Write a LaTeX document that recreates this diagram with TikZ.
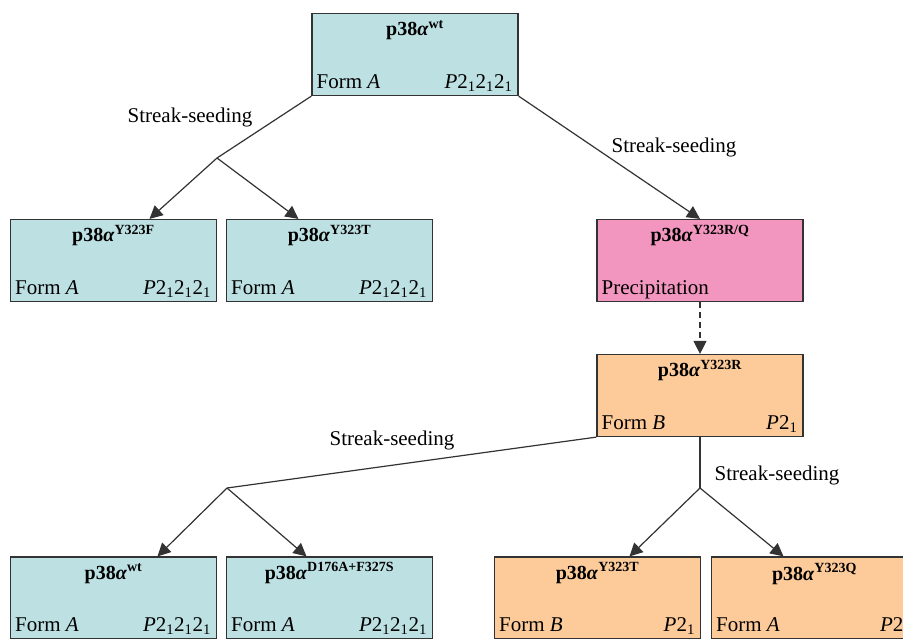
\documentclass[tikz,border=0pt]{standalone}
\usepackage{fontspec}
\setmainfont{Liberation Serif}
\usetikzlibrary{arrows.meta,positioning}
\definecolor{xtalblue}{HTML}{BDE0E3}
\definecolor{precpink}{HTML}{F296C0}
\definecolor{formorange}{HTML}{FDCA9A}
\newcommand{\ptitle}[1]{\textbf{p38\textit{α}\textsuperscript{#1}}}
\newcommand{\sgA}{\textit{P}2\textsubscript{1}2\textsubscript{1}2\textsubscript{1}}
\newcommand{\sgB}{\textit{P}2\textsubscript{1}}

\begin{document}
\begin{tikzpicture}[x=1pt,y=-1pt,
  box/.style={draw=black!80,line width=1.2pt,minimum width=206pt,minimum height=82pt,inner sep=0pt},
  titletxt/.style={anchor=base,inner sep=0pt,font=\fontsize{20}{24}\selectfont},
  formtxt/.style={anchor=base west,inner sep=0pt,font=\fontsize{21}{25}\selectfont},
  sgtxt/.style={anchor=base east,inner sep=0pt,font=\fontsize{21}{25}\selectfont},
  seedtxt/.style={anchor=base,inner sep=0pt,font=\fontsize{21}{25}\selectfont},
  conn/.style={draw=black!80,line width=1.2pt},
  arr/.style={conn,-{Triangle[length=13pt,width=13pt]}}]
\path[use as bounding box,clip] (0,0) rectangle (903,638);
\fill[white] (0,0) rectangle (903,638);
% boxes
\node[box,fill=xtalblue] (wt) at (415,54.5) {};
\node[box,fill=xtalblue] (f) at (113.5,260.5) {};
\node[box,fill=xtalblue] (t) at (329.5,260.5) {};
\node[box,fill=precpink] (rq) at (700,260.5) {};
\node[box,fill=formorange] (r) at (700,395.5) {};
\node[box,fill=xtalblue] (bwt) at (113.5,598) {};
\node[box,fill=xtalblue] (bds) at (329.5,598) {};
\node[box,fill=formorange] (bt) at (597.5,598) {};
\node[box,fill=formorange,minimum width=250pt] (bq) at (836.5,598) {};
% box texts
\node[titletxt] (wt-t) at ([yshift=-23pt]wt.north) {\ptitle{wt}};
\node[formtxt] (wt-f) at ([shift={(5pt,8pt)}]wt.south west) {Form \textit{A}};
\node[sgtxt] (wt-s) at ([shift={(-6pt,8pt)}]wt.south east) {\sgA};
\node[titletxt] (f-t) at ([yshift=-23pt]f.north) {\ptitle{Y323F}};
\node[formtxt] (f-f) at ([shift={(5pt,8pt)}]f.south west) {Form \textit{A}};
\node[sgtxt] (f-s) at ([shift={(-6pt,8pt)}]f.south east) {\sgA};
\node[titletxt] (t-t) at ([yshift=-23pt]t.north) {\ptitle{Y323T}};
\node[formtxt] (t-f) at ([shift={(5pt,8pt)}]t.south west) {Form \textit{A}};
\node[sgtxt] (t-s) at ([shift={(-6pt,8pt)}]t.south east) {\sgA};
\node[titletxt] (rq-t) at ([yshift=-23pt]rq.north) {\ptitle{Y323R/Q}};
\node[formtxt] (rq-f) at ([shift={(5pt,8pt)}]rq.south west) {Precipitation};
\node[titletxt] (r-t) at ([yshift=-23pt]r.north) {\ptitle{Y323R}};
\node[formtxt] (r-f) at ([shift={(5pt,8pt)}]r.south west) {Form \textit{B}};
\node[sgtxt] (r-s) at ([shift={(-6pt,8pt)}]r.south east) {\sgB};
\node[titletxt] (bwt-t) at ([yshift=-23pt]bwt.north) {\ptitle{wt}};
\node[formtxt] (bwt-f) at ([shift={(5pt,8pt)}]bwt.south west) {Form \textit{A}};
\node[sgtxt] (bwt-s) at ([shift={(-6pt,8pt)}]bwt.south east) {\sgA};
\node[titletxt] (bds-t) at ([yshift=-23pt]bds.north) {\ptitle{D176A+F327S}};
\node[formtxt] (bds-f) at ([shift={(5pt,8pt)}]bds.south west) {Form \textit{A}};
\node[sgtxt] (bds-s) at ([shift={(-6pt,8pt)}]bds.south east) {\sgA};
\node[titletxt] (bt-t) at ([yshift=-23pt]bt.north) {\ptitle{Y323T}};
\node[formtxt] (bt-f) at ([shift={(5pt,8pt)}]bt.south west) {Form \textit{B}};
\node[sgtxt] (bt-s) at ([shift={(-6pt,8pt)}]bt.south east) {\sgB};
\node[titletxt] (bq-t) at (814.5,557) [yshift=-23pt] {\ptitle{Y323Q}};
\node[formtxt] (bq-f) at ([shift={(5pt,8pt)}]bq.south west) {Form \textit{A}};
\node[formtxt] (bq-s) at ([shift={(169pt,8pt)}]bq.south west) {\sgA};
% connectors
\coordinate (b1) at (217,158);
\coordinate (b2) at (227,488);
\coordinate (b3) at (700,488);
\draw[conn] (wt.south west) -- (b1);
\draw[arr] (b1) -- ([xshift=36pt]f.north);
\draw[arr] (b1) -- ([xshift=-31pt]t.north);
\draw[arr] (wt.south east) -- (rq.north);
\draw[arr,dash pattern=on 6pt off 4pt] (rq.south) -- (r.north);
\draw[conn] (r.south west) -- (b2);
\draw[arr] (b2) -- ([xshift=44pt]bwt.north);
\draw[arr] (b2) -- ([xshift=-23pt]bds.north);
\draw[conn] (r.south) -- (b3);
\draw[arr] (b3) -- ([xshift=32pt]bt.north);
\draw[arr] (b3) -- ([xshift=-53pt]bq.north);
% labels
\node[seedtxt] (s1) at (190,122) {Streak-seeding};
\node[seedtxt] (s2) at (674,152) {Streak-seeding};
\node[seedtxt] (s3) at (392,445) {Streak-seeding};
\node[seedtxt] (s4) at (777,480) {Streak-seeding};
\end{tikzpicture}
\end{document}
